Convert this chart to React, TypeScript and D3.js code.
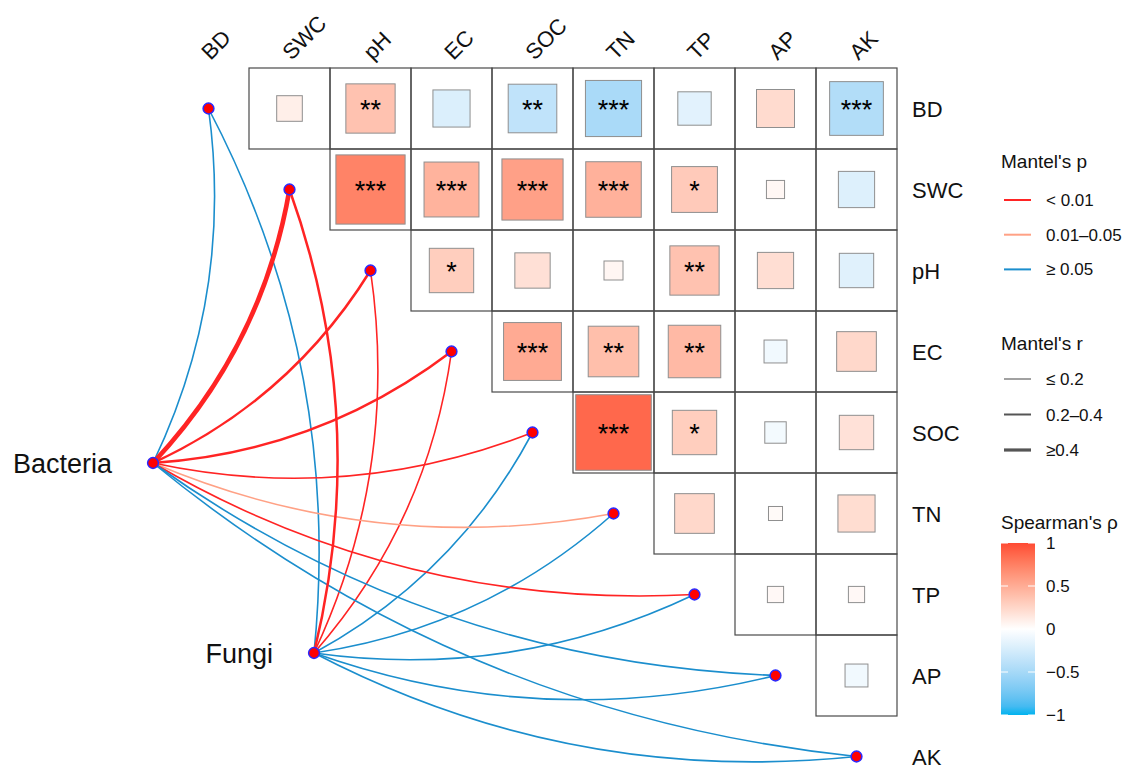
import React, { useEffect, useRef } from 'react';
import * as d3 from 'd3';

// environmental variables (matrix rows / columns)
const vars = ['BD', 'SWC', 'pH', 'EC', 'SOC', 'TN', 'TP', 'AP', 'AK'];

// Spearman's rho, upper triangle, row i holds columns i+1..8
const rho: number[][] = [
  [0.10, 0.37, -0.21, -0.36, -0.48, -0.17, 0.22, -0.44],
  [0.73, 0.46, 0.57, 0.47, 0.32, 0.05, -0.20],
  [0.30, 0.19, 0.055, 0.37, 0.20, -0.18],
  [0.51, 0.39, 0.42, -0.08, 0.24],
  [0.87, 0.30, -0.07, 0.18],
  [0.24, 0.03, 0.21],
  [0.04, 0.04],
  [-0.08],
];

const sig: string[][] = [
  ['', '**', '', '**', '***', '', '', '***'],
  ['***', '***', '***', '***', '*', '', ''],
  ['*', '', '', '**', '', ''],
  ['***', '**', '**', '', ''],
  ['***', '*', '', ''],
  ['', '', ''],
  ['', ''],
  [''],
];

// Mantel test classes, one entry per variable in vars order
const species = ['Bacteria', 'Fungi'];
const pClasses = ['< 0.01', '0.01–0.05', '≥ 0.05'];
const rClasses = ['≤ 0.2', '0.2–0.4', '≥0.4'];
const bacteriaP = ['≥ 0.05', '< 0.01', '< 0.01', '< 0.01', '< 0.01', '0.01–0.05', '< 0.01', '≥ 0.05', '≥ 0.05'];
const bacteriaR = ['≤ 0.2', '≥0.4', '0.2–0.4', '0.2–0.4', '≤ 0.2', '≤ 0.2', '≤ 0.2', '≤ 0.2', '≤ 0.2'];
const fungiP = ['≥ 0.05', '< 0.01', '< 0.01', '< 0.01', '≥ 0.05', '≥ 0.05', '≥ 0.05', '≥ 0.05', '≥ 0.05'];
const fungiR = ['≤ 0.2', '0.2–0.4', '≤ 0.2', '≤ 0.2', '≤ 0.2', '≤ 0.2', '≤ 0.2', '≤ 0.2', '≤ 0.2'];
const rhoTicks = [1, 0.5, 0, -0.5, -1];

const FONT = 'Liberation Sans, Arial, sans-serif';

function App() {
  const ref = useRef<SVGSVGElement>(null);

  useEffect(() => {
    const svg = d3.select(ref.current);
    svg.selectAll('*').remove();

    const cell = 81;
    const x = d3.scaleBand().domain(vars).range([168, 168 + cell * vars.length]);
    const y = d3.scaleBand().domain(vars).range([68, 68 + cell * vars.length]);
    const cx = (v: string) => (x(v) as number) + cell / 2;
    const cy = (v: string) => (y(v) as number) + cell / 2;

    const color = d3.scaleLinear<string>()
      .domain([-1, 0, 1])
      .range(['#00B3EF', '#FFFFFF', '#FF4A33'])
      .interpolate(d3.interpolateLab);
    const side = d3.scaleSqrt().domain([0, 1]).range([0, cell]);

    const pColor = d3.scaleOrdinal<string>().domain(pClasses).range(['#FF2424', '#FFA185', '#1B8ECD']);
    const rWidth = d3.scaleOrdinal<number>().domain(rClasses).range([1.6, 2.5, 4.6]);
    const rLegendWidth = d3.scaleOrdinal<number>().domain(rClasses).range([1.1, 2.0, 3.2]);

    // ---- links
    const nodePos: Record<string, [number, number]> = {
      Bacteria: [153, 463],
      Fungi: [314, 653],
    };
    const links: { sp: string; v: string; p: string; r: string }[] = [];
    vars.forEach((v, i) => {
      links.push({ sp: 'Bacteria', v, p: bacteriaP[i], r: bacteriaR[i] });
      links.push({ sp: 'Fungi', v, p: fungiP[i], r: fungiR[i] });
    });
    // draw thin first so thick ones lie on top
    links.sort((a, b) => rClasses.indexOf(a.r) - rClasses.indexOf(b.r));

    const curve = (a: [number, number], b: [number, number]) => {
      const dx = b[0] - a[0], dy = b[1] - a[1];
      const k = 0.15;
      const mx = (a[0] + b[0]) / 2 - dy * k;
      const my = (a[1] + b[1]) / 2 + dx * k;
      const p = d3.path();
      p.moveTo(a[0], a[1]);
      p.quadraticCurveTo(mx, my, b[0], b[1]);
      return p.toString();
    };

    const gLinks = svg.append('g');
    gLinks.selectAll('path')
      .data(links)
      .enter()
      .append('path')
      .attr('d', d => curve(nodePos[d.sp], [cx(d.v), cy(d.v)]))
      .attr('fill', 'none')
      .attr('stroke', d => pColor(d.p))
      .attr('stroke-width', d => rWidth(d.r))
      .attr('stroke-linecap', 'round');

    // ---- matrix cells
    const cells: { row: string; col: string; r: number; s: string }[] = [];
    rho.forEach((rowVals, i) => {
      rowVals.forEach((r, k) => {
        cells.push({ row: vars[i], col: vars[i + 1 + k], r, s: sig[i][k] });
      });
    });

    const gCells = svg.append('g');
    gCells.selectAll('rect.cell')
      .data(cells)
      .enter()
      .append('rect')
      .attr('class', 'cell')
      .attr('x', d => x(d.col) as number)
      .attr('y', d => y(d.row) as number)
      .attr('width', cell)
      .attr('height', cell)
      .attr('fill', 'none')
      .attr('stroke', '#4a4a4a')
      .attr('stroke-width', 1.2);

    gCells.selectAll('rect.sq')
      .data(cells)
      .enter()
      .append('rect')
      .attr('class', 'sq')
      .attr('x', d => cx(d.col) - side(Math.abs(d.r)) / 2)
      .attr('y', d => cy(d.row) - side(Math.abs(d.r)) / 2)
      .attr('width', d => side(Math.abs(d.r)))
      .attr('height', d => side(Math.abs(d.r)))
      .attr('fill', d => color(d.r))
      .attr('stroke', '#8f8f8f')
      .attr('stroke-width', 1);

    gCells.selectAll('text')
      .data(cells.filter(d => d.s))
      .enter()
      .append('text')
      .attr('x', d => cx(d.col))
      .attr('y', d => cy(d.row) + 10)
      .attr('text-anchor', 'middle')
      .attr('font-family', FONT)
      .attr('font-size', 27)
      .attr('fill', '#000')
      .text(d => d.s);

    // ---- axis labels
    svg.append('g').selectAll('text')
      .data(vars)
      .enter()
      .append('text')
      .attr('transform', d => `translate(${cx(d) + 2}, 61) rotate(-45)`)
      .attr('font-family', FONT)
      .attr('font-size', 22)
      .attr('fill', '#111')
      .text(d => d);

    svg.append('g').selectAll('text')
      .data(vars)
      .enter()
      .append('text')
      .attr('x', 912)
      .attr('y', d => cy(d) + 8)
      .attr('font-family', FONT)
      .attr('font-size', 22)
      .attr('fill', '#111')
      .text(d => d);

    // ---- nodes
    const nodes = [
      ...vars.map(v => [cx(v), cy(v)] as [number, number]),
      ...species.map(s => nodePos[s]),
    ];
    svg.append('g').selectAll('circle')
      .data(nodes)
      .enter()
      .append('circle')
      .attr('cx', d => d[0])
      .attr('cy', d => d[1])
      .attr('r', 5.4)
      .attr('fill', '#FF0000')
      .attr('stroke', '#2a2aff')
      .attr('stroke-width', 1.5);

    svg.append('g').selectAll('text')
      .data(species)
      .enter()
      .append('text')
      .attr('x', d => nodePos[d][0] - 41)
      .attr('y', d => nodePos[d][1] + 10)
      .attr('text-anchor', 'end')
      .attr('font-family', FONT)
      .attr('font-size', 27)
      .attr('fill', '#111')
      .text(d => d);

    // ---- legends
    const lg = svg.append('g').attr('font-family', FONT).attr('fill', '#111');
    lg.append('text').attr('x', 1001).attr('y', 168).attr('font-size', 19).text("Mantel's p");
    pClasses.forEach((c, i) => {
      const yy = 200 + i * 34.7;
      lg.append('line').attr('x1', 1004).attr('x2', 1031).attr('y1', yy).attr('y2', yy)
        .attr('stroke', pColor(c)).attr('stroke-width', 2);
      lg.append('text').attr('x', 1046).attr('y', yy + 6).attr('font-size', 17).text(c);
    });

    lg.append('text').attr('x', 1001).attr('y', 350).attr('font-size', 19).text("Mantel's r");
    rClasses.forEach((c, i) => {
      const yy = 379 + i * 35.5;
      lg.append('line').attr('x1', 1004).attr('x2', 1031).attr('y1', yy).attr('y2', yy)
        .attr('stroke', '#555').attr('stroke-width', rLegendWidth(c));
      lg.append('text').attr('x', 1046).attr('y', yy + 6).attr('font-size', 17).text(c);
    });

    lg.append('text').attr('x', 1001).attr('y', 529).attr('font-size', 19).text("Spearman's ρ");
    const barY = d3.scaleLinear().domain([-1, 1]).range([715, 543]);
    const defs = svg.append('defs');
    const grad = defs.append('linearGradient').attr('id', 'rhoGrad')
      .attr('x1', 0).attr('x2', 0).attr('y1', 1).attr('y2', 0);
    d3.range(-1, 1.001, 0.1).forEach(v => {
      grad.append('stop').attr('offset', `${((v + 1) / 2) * 100}%`).attr('stop-color', color(v));
    });
    lg.append('rect').attr('x', 1001).attr('y', barY(1)).attr('width', 34)
      .attr('height', barY(-1) - barY(1)).attr('fill', 'url(#rhoGrad)');
    rhoTicks.forEach(t => {
      const yy = barY(t);
      lg.append('line').attr('x1', 1001).attr('x2', 1008).attr('y1', yy).attr('y2', yy)
        .attr('stroke', '#fff').attr('stroke-width', 1);
      lg.append('line').attr('x1', 1028).attr('x2', 1035).attr('y1', yy).attr('y2', yy)
        .attr('stroke', '#fff').attr('stroke-width', 1);
      lg.append('text').attr('x', 1046).attr('y', yy + 6).attr('font-size', 17)
        .text(t < 0 ? `−${Math.abs(t)}` : `${t}`);
    });
  }, []);

  return (
    <svg
      ref={ref}
      width={1144}
      height={776}
      style={{ position: 'absolute', left: 0, top: 0, background: '#fff' }}
    />
  );
}

export default App;
